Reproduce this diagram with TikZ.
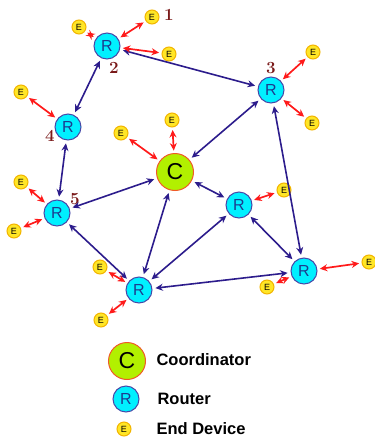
\documentclass[tikz,border=0pt]{standalone}
\usepackage{fontspec}
\setsansfont{Liberation Sans}
\usetikzlibrary{arrows.meta}
\definecolor{routerfill}{HTML}{00F0FF}
\definecolor{routerline}{HTML}{4848A8}
\definecolor{routertext}{HTML}{1C3C90}
\definecolor{devfill}{HTML}{FFE626}
\definecolor{devline}{HTML}{F2B400}
\definecolor{coordfill}{HTML}{B2F000}
\definecolor{coordline}{HTML}{F05A28}
\definecolor{linkblue}{HTML}{2C1C8C}
\definecolor{devred}{HTML}{FF1A1A}
\definecolor{numred}{HTML}{7A1A1A}

\begin{document}
\begin{tikzpicture}
  [x=1pt,y=-1pt,>={Stealth[length=7.5pt,width=7pt]}]
      \tikzstyle{router_style} = [circle, fill=routerfill, draw=routerline, line width=1, minimum size=26pt, inner sep=0, text=routertext, font=\sffamily\fontsize{16}{16}\selectfont]
      \tikzstyle{coord_style} = [circle, fill=coordfill, draw=coordline, line width=1, minimum size=37pt, inner sep=0, font=\sffamily\fontsize{23}{23}\selectfont]
      \tikzstyle{dev_style} = [circle, fill=devfill, draw=devline, line width=1, minimum size=14pt, inner sep=0, font=\sffamily\fontsize{9}{9}\selectfont]
      \tikzstyle{num_style} = [text=numred, font=\bfseries\fontsize{17}{17}\selectfont]
      \tikzstyle{legend_style} = [anchor=west, font=\sffamily\bfseries\fontsize{16.5}{16.5}\selectfont]
      \tikzstyle{link_style} = [draw=linkblue, line width=1.6, <->, shorten >=3pt, shorten <=3pt]
      \tikzstyle{red_style} = [draw=devred, line width=1.7, <->, shorten >=2.5pt, shorten <=2.5pt]
  \useasboundingbox (0,0) rectangle (375,437);
  % coordinator and routers
  \node[coord_style] (c) at (175,172) {C};
  \node[router_style] (r2) at (107,46) {R};
  \node[router_style] (r3) at (271,90) {R};
  \node[router_style] (r4) at (68,127) {R};
  \node[router_style] (r5) at (57,213) {R};
  \node[router_style] (r6) at (139,290) {R};
  \node[router_style] (r7) at (239,205) {R};
  \node[router_style] (r8) at (304,271) {R};
  % end devices
  \node[dev_style] (e1) at (152,17) {E};
  \node[dev_style] (e2) at (79,27) {E};
  \node[dev_style] (e3) at (169,54) {E};
  \node[dev_style] (e4) at (21,92) {E};
  \node[dev_style] (e5) at (121,133) {E};
  \node[dev_style] (e6) at (172,120) {E};
  \node[dev_style] (e7) at (313,52) {E};
  \node[dev_style] (e8) at (312,123) {E};
  \node[dev_style] (e9) at (284,190) {E};
  \node[dev_style] (e10) at (21,182) {E};
  \node[dev_style] (e11) at (14,231) {E};
  \node[dev_style] (e12) at (100,267) {E};
  \node[dev_style] (e13) at (101,320) {E};
  \node[dev_style] (e14) at (369,262) {E};
  \node[dev_style] (e15) at (267,287) {E};
  % numbers
  \node[num_style] (n1) at (169,15) {1};
  \node[num_style] (n2) at (114,68) {2};
  \node[num_style] (n3) at (271,68) {3};
  \node[num_style] (n4) at (50,136) {4};
  \node[num_style] (n5) at (75,199) {5};
  % router links
  \draw[link_style] (r2) edge (r3);
  \draw[link_style] (r2) edge (r4);
  \draw[link_style] (r4) edge (r5);
  \draw[link_style] (r3) edge (c);
  \draw[link_style] (r3) edge (r8);
  \draw[link_style] (c) edge (r5);
  \draw[link_style] (c) edge (r7);
  \draw[link_style] (c) edge (r6);
  \draw[link_style] (r5) edge (r6);
  \draw[link_style] (r7) edge (r6);
  \draw[link_style] (r7) edge (r8);
  \draw[link_style] (r8) edge (r6);
  % device links
  \draw[red_style] (e1) edge (r2);
  \draw[red_style] (e2) edge (r2);
  \draw[red_style] (e3) edge (r2);
  \draw[red_style] (e4) edge (r4);
  \draw[red_style] (e5) edge (c);
  \draw[red_style] (e6) edge (c);
  \draw[red_style] (e7) edge (r3);
  \draw[red_style] (e8) edge (r3);
  \draw[red_style] (e9) edge (r7);
  \draw[red_style] (e10) edge (r5);
  \draw[red_style] (e11) edge (r5);
  \draw[red_style] (e12) edge (r6);
  \draw[red_style] (e13) edge (r6);
  \draw[red_style] (e14) edge (r8);
  \draw[red_style] (e15) edge (r8);
  % legend
  \node[coord_style] (lc) at (127,361) {C};
  \node[router_style] (lr) at (126,399) {R};
  \node[dev_style] (le) at (124,429) {E};
  \node[legend_style] (tc) at (153,360) {Coordinator};
  \node[legend_style] (tr) at (154,399) {Router};
  \node[legend_style] (te) at (153,429) {End Device};
\end{tikzpicture}
\end{document}
